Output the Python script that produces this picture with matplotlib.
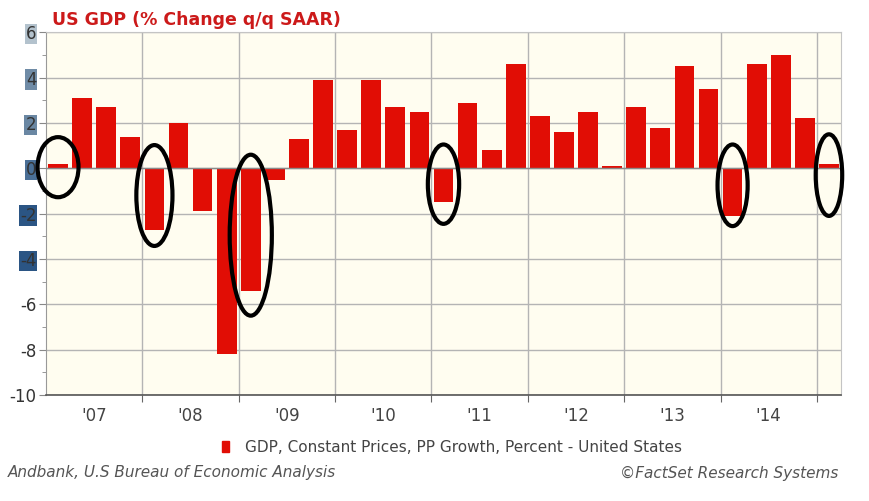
import matplotlib
matplotlib.use("Agg")
import matplotlib.pyplot as plt
from matplotlib.patches import Ellipse
import numpy as np

# Quarterly US GDP growth, Q1 2007 .. Q1 2015
gdp = [0.2, 3.1, 2.7, 1.4,
       -2.7, 2.0, -1.9, -8.2,
       -5.4, -0.5, 1.3, 3.9,
       1.7, 3.9, 2.7, 2.5,
       -1.5, 2.9, 0.8, 4.6,
       2.3, 1.6, 2.5, 0.1,
       2.7, 1.8, 4.5, 3.5,
       -2.1, 4.6, 5.0, 2.2,
       0.2]
year_labels = ["'07", "'08", "'09", "'10", "'11", "'12", "'13", "'14"]
y_ticks = [6, 4, 2, 0, -2, -4, -6, -8, -10]
y_tick_boxes = ["#b3c2cd", "#6f8ba6", "#6a87a3", "#4a6f96", "#2b5584", "#2b5584", None, None, None]
# highlighted quarters: (index, ellipse centre value, ellipse height, width in bars)
highlights = [(0, 0.05, 2.65, 1.7), (4, -1.2, 4.45, 1.5), (8, -2.95, 7.1, 1.75),
              (16, -0.7, 3.5, 1.3), (28, -0.75, 3.6, 1.25), (32, -0.3, 3.6, 1.1)]

title = "US GDP (% Change q/q SAAR)"
legend_label = "GDP, Constant Prices, PP Growth, Percent - United States"
source_left = "Andbank, U.S Bureau of Economic Analysis"
source_right = "\u00a9FactSet Research Systems"

fig = plt.figure(figsize=(8.69, 5.01), dpi=100)
ax = fig.add_axes([46/869, 1-395/501, (841-46)/869, (395-32.3)/501])
ax.set_facecolor("#fffdf0")

x = np.arange(len(gdp)) + 0.5
ax.bar(x, gdp, width=0.82, color="#e10d05", zorder=2)
ax.axhline(0, color="#8a8a8a", lw=1.0, zorder=3)

ax.set_xlim(0, len(gdp))
ax.set_ylim(-10, 6)

# grid
ax.set_yticks(y_ticks)
ax.set_yticks(np.arange(-9, 6, 2), minor=True)
ax.set_xticks(np.arange(4, len(gdp), 4))
ax.set_xticklabels([])
ax.grid(True, which="major", color="#b4b4b4", lw=1.0, zorder=1)
ax.tick_params(axis="y", which="major", length=5, color="#888888", labelsize=12,
               labelcolor="#333333", pad=2)
ax.tick_params(axis="y", which="minor", length=3, color="#888888")
ax.tick_params(axis="x", which="major", length=5, color="#666666")
ax.set_yticklabels([str(v) for v in y_ticks])
for lab, c in zip(ax.get_yticklabels(), y_tick_boxes):
    if c is not None:
        lab.set_bbox(dict(facecolor=c, edgecolor="none", pad=0.8))

# year labels centred under each year's four quarters
for i, lab in enumerate(year_labels):
    ax.text(4 * i + 2, -0.033, lab, transform=ax.get_xaxis_transform(),
            ha="center", va="top", fontsize=12, color="#444444")

for side in ["top", "right"]:
    ax.spines[side].set_color("#c4c4c4")
ax.spines["left"].set_color("#999999")
ax.spines["bottom"].set_color("#555555")
ax.spines["bottom"].set_linewidth(1.2)

# highlight ellipses
for idx, cy, h, w in highlights:
    e = Ellipse((x[idx], cy), w, h, fill=False, edgecolor="black", lw=3,
                zorder=5, clip_on=False)
    ax.add_patch(e)

fig.text(52/869, 1-20/501, title, color="#cc1a1a", fontsize=12.5,
         fontweight="bold", ha="left", va="center")

# legend
fig.patches.append(plt.Rectangle((222/869, 1-452/501), 7/869, 11/501,
                                 transform=fig.transFigure, color="#e10d05"))
fig.text(245/869, 1-447/501, legend_label, fontsize=11, color="#444444",
         ha="left", va="center")

fig.text(8/869, 1-473/501, source_left, fontsize=11, style="italic",
         color="#555555", ha="left", va="center")
fig.text(838/869, 1-473/501, source_right, fontsize=11, style="italic",
         color="#555555", ha="right", va="center")

fig.savefig("out.png", dpi=100, facecolor="white")
